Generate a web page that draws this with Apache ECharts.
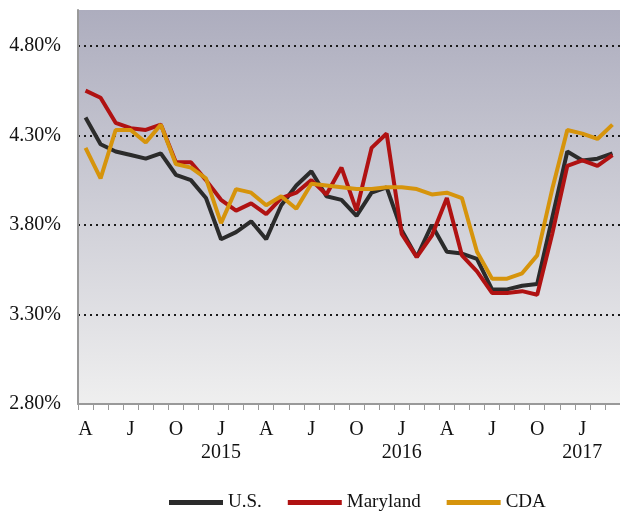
<!DOCTYPE html>
<html>
<head>
<meta charset="utf-8">
<script src="https://cdn.jsdelivr.net/npm/echarts@6/dist/echarts.min.js"></script>
<style>
  html, body { margin: 0; padding: 0; background: #fff; }
  #chart { width: 620px; height: 514px; }
</style>
</head>
<body>
<div id="chart"></div>
<script>
// months Apr 2014 .. Mar 2017, January carries the year
let months = ['A','M','J','J','A','S','O','N','D',
    'J\n2015','F','M','A','M','J','J','A','S','O','N','D',
    'J\n2016','F','M','A','M','J','J','A','S','O','N','D',
    'J\n2017','F','M'];

let usRate = [4.40, 4.25, 4.21, 4.19, 4.17, 4.20, 4.08, 4.05, 3.95, 3.72, 3.76, 3.82,
    3.72, 3.91, 4.02, 4.10, 3.96, 3.94, 3.85, 3.98, 4.01, 3.77, 3.62, 3.80,
    3.65, 3.64, 3.61, 3.44, 3.44, 3.46, 3.47, 3.84, 4.21, 4.16, 4.17, 4.20];

let marylandRate = [4.55, 4.51, 4.37, 4.34, 4.33, 4.36, 4.15, 4.15, 4.05, 3.94, 3.88, 3.92,
    3.86, 3.95, 3.98, 4.05, 3.97, 4.12, 3.88, 4.23, 4.31, 3.75, 3.62, 3.74,
    3.95, 3.63, 3.54, 3.42, 3.42, 3.43, 3.41, 3.75, 4.13, 4.16, 4.13, 4.19];

let cdaRate = [4.23, 4.06, 4.33, 4.33, 4.26, 4.36, 4.14, 4.12, 4.06, 3.81, 4.00, 3.98,
    3.91, 3.96, 3.89, 4.03, 4.02, 4.01, 4.00, 4.00, 4.01, 4.01, 4.00, 3.97,
    3.98, 3.95, 3.65, 3.50, 3.50, 3.53, 3.63, 4.00, 4.33, 4.31, 4.28, 4.36];

let yTicks = [2.8, 3.3, 3.8, 4.3, 4.8];

let chart = {
    font: 'Liberation Serif',
    init: () => {
        let myChart = echarts.init(document.getElementById('chart'), null, {renderer: 'canvas'});
        let font = chart.font;
        let isTick = (v) => yTicks.some((t) => Math.abs(t - v) < 1e-6);
        let lineSeries = (name, data, color) => ({
            name: name,
            type: 'line',
            data: data,
            symbol: 'none',
            lineStyle: {color: color, width: 4},
            itemStyle: {color: color}
        });
        let option = {
            animation: false,
            grid: {
                left: 78, top: 10, width: 544, height: 394,
                show: true,
                borderWidth: 0,
                backgroundColor: new echarts.graphic.LinearGradient(0, 0, 0, 1, [
                    {offset: 0, color: '#adadbe'},
                    {offset: 1, color: '#efefef'}
                ])
            },
            legend: {
                left: 164, top: 488,
                itemWidth: 54, itemHeight: 5, itemGap: 26,
                icon: 'rect',
                textStyle: {fontFamily: font, fontSize: 19, color: '#111'},
                data: ['U.S.', 'Maryland', 'CDA']
            },
            xAxis: {
                type: 'category',
                data: months,
                boundaryGap: true,
                axisLine: {lineStyle: {color: '#999', width: 2}},
                axisTick: {show: true, interval: 0, length: 6, lineStyle: {color: '#999', width: 1}},
                axisLabel: {
                    interval: 2, margin: 14,
                    fontFamily: font, fontSize: 20, color: '#111', lineHeight: 23
                },
                splitLine: {show: false}
            },
            yAxis: {
                type: 'value',
                min: 2.8, max: 5.0, interval: 0.1,
                axisLine: {show: true, lineStyle: {color: '#999', width: 2}},
                axisTick: {show: false},
                axisLabel: {
                    margin: 17,
                    fontFamily: font, fontSize: 20, color: '#111',
                    formatter: (v) => isTick(v) ? v.toFixed(2) + '%' : ''
                },
                splitLine: {
                    show: true,
                    lineStyle: {
                        color: ['#1a1a1a', 'rgba(0,0,0,0)', 'rgba(0,0,0,0)', 'rgba(0,0,0,0)', 'rgba(0,0,0,0)'],
                        width: 2,
                        type: [2, 4]
                    }
                }
            },
            series: [
                lineSeries('U.S.', usRate, '#2b2b2b'),
                lineSeries('Maryland', marylandRate, '#b01212'),
                lineSeries('CDA', cdaRate, '#d6940c')
            ]
        };
        myChart.setOption(option);
    }
};

chart.init();
</script>
</body>
</html>
